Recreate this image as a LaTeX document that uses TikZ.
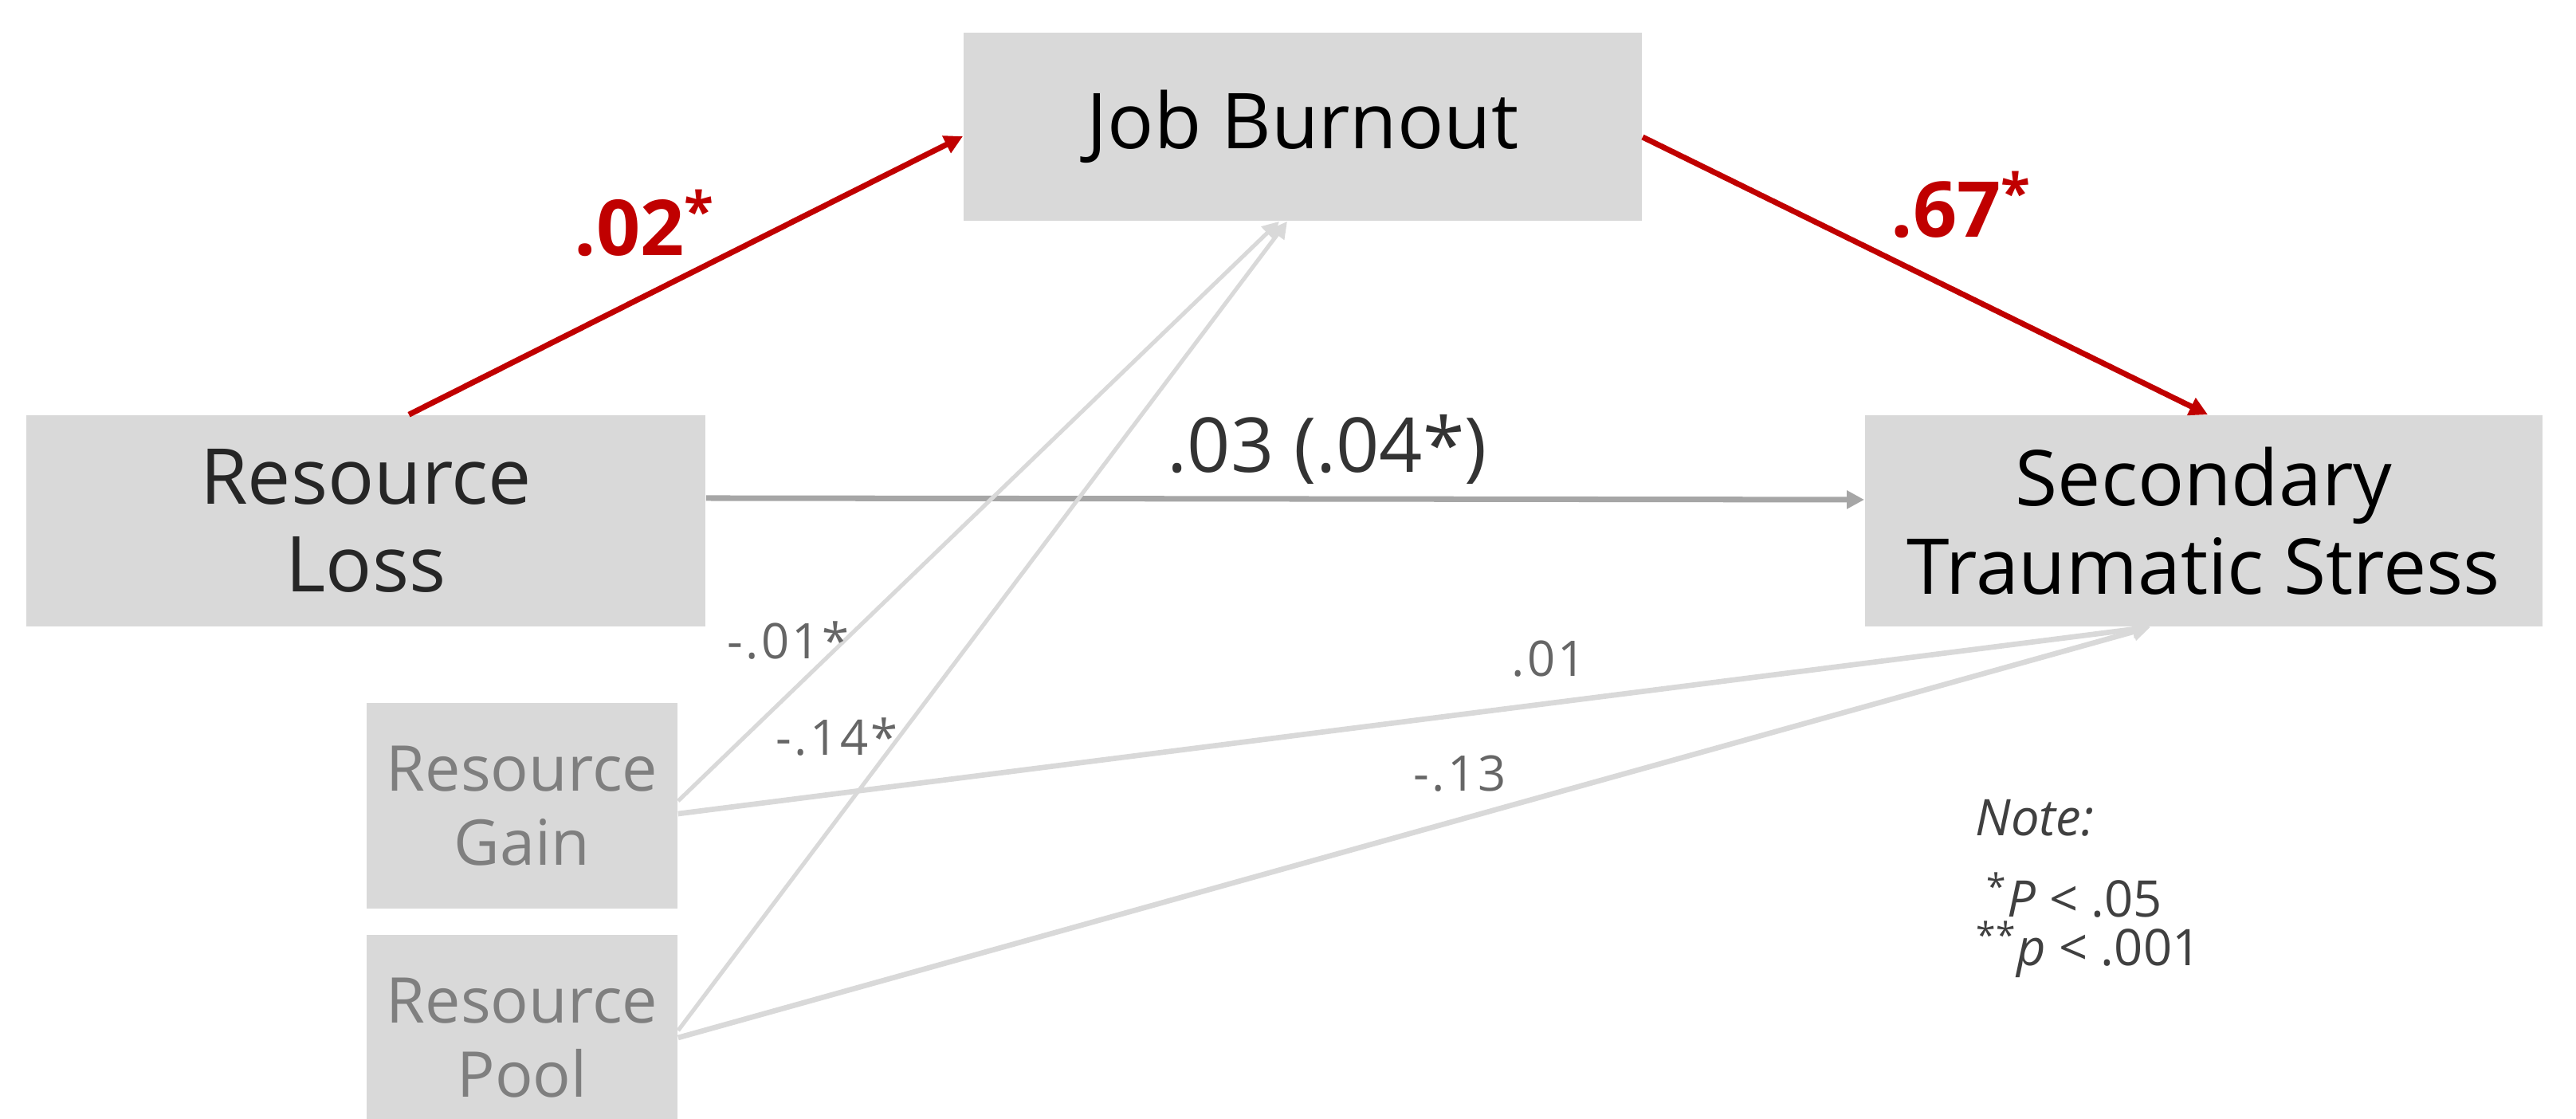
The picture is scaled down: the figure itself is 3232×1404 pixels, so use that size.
\documentclass[tikz,border=0pt]{standalone}
\usepackage{fontspec}
\setmainfont{Open Sans}
\usetikzlibrary{arrows.meta}
\definecolor{boxgray}{HTML}{D9D9D9}
\definecolor{redline}{HTML}{C00000}
\definecolor{midgray}{HTML}{A6A6A6}
\definecolor{txtdark}{HTML}{262626}
\definecolor{txtgain}{HTML}{7F7F7F}
\definecolor{lblgray}{HTML}{666666}
\definecolor{notegray}{HTML}{404040}
\definecolor{lbldark}{HTML}{333333}
\begin{document}
\begin{tikzpicture}[x=0.01cm,y=-0.01cm,
  box/.style={fill=boxgray, inner sep=0pt, align=center},
  mainbox/.style={box, font=\fontsize{27.5}{31.5}\selectfont},
  smallbox/.style={box, text=txtgain, font=\fontsize{22.5}{26.5}\selectfont},
  redarrow/.style={draw=redline, line width=2pt, -{Triangle[length=0.23cm,width=0.23cm]}},
  directarrow/.style={draw=midgray, line width=2pt, -{Triangle[length=0.22cm,width=0.22cm]}},
  thinarrow/.style={draw=boxgray, line width=1.45pt, -{Triangle[length=0.21cm,width=0.21cm]}},
  lightarrow/.style={draw=boxgray, line width=1.9pt, -{Triangle[length=0.22cm,width=0.22cm]}},
  coef/.style={anchor=base west, inner sep=0pt, text=lblgray, font=\fontsize{17.5}{20}\selectfont\addfontfeatures{LetterSpace=5}},
  redlbl/.style={anchor=base west, inner sep=0pt, text=redline, font=\fontsize{27.5}{31.5}\selectfont\bfseries},
  darklbl/.style={anchor=base west, inner sep=0pt, text=lbldark, font=\fontsize{27}{31}\selectfont},
  notelbl/.style={anchor=base west, inner sep=0pt, text=notegray, font=\fontsize{18}{21}\selectfont}
]
\useasboundingbox (0,0) rectangle (3232,1404);
\clip (0,0) rectangle (3232,1404);

% boxes
\node[mainbox, text=black, minimum width=8.51cm, minimum height=2.36cm] (JB) at (1634.5,159) {Job Burnout};
\node[mainbox, text=txtdark, minimum width=8.52cm, minimum height=2.65cm] (RL) at (459,653.5) {Resource\\Loss};
\node[mainbox, text=black, minimum width=8.50cm, minimum height=2.65cm] (STS) at (2765,653.5) {Secondary\\Traumatic Stress};
\node[smallbox, minimum width=3.90cm, minimum height=2.58cm] (RG) at (655,1011) {Resource\\Gain};
\node[smallbox, minimum width=3.90cm, minimum height=2.58cm] (RP) at (655,1302) {Resource\\Pool};

% connectors
\draw[redarrow] ([xshift=0.54cm]RL.north) -- ([yshift=-0.12cm]JB.west);
\draw[redarrow] ([yshift=-0.13cm]JB.east) -- ([xshift=0.05cm]STS.north);
\draw[directarrow] ([yshift=0.285cm]RL.east) -- ([yshift=0.265cm]STS.west);
\draw[thinarrow] ([yshift=0.06cm]RG.east) -- ([xshift=-0.295cm]JB.south);
\draw[thinarrow] ([yshift=0.09cm]RP.east) -- ([xshift=-0.195cm]JB.south);
\draw[lightarrow] ([yshift=-0.10cm]RG.east) -- ([xshift=-0.67cm]STS.south);
\draw[lightarrow] (RP.east) -- ([xshift=-0.67cm]STS.south);

% coefficient labels
\node[redlbl] (l02) at (720,321) {.02\textsuperscript{*}};
\node[redlbl] (l67) at (2372,298) {.67\textsuperscript{*}};
\node[darklbl] (l03) at (1464,593) {.03 (.04*)};
\node[coef] (l01a) at (912,827) {-.01*};
\node[coef] (l14) at (973,948) {-.14*};
\node[coef] (l01b) at (1896,849) {.01};
\node[coef] (l13) at (1773,993) {-.13};

% note
\node[notelbl] (note) at (2478,1049) {\itshape Note:};
\node[notelbl] (p05) at (2492,1151) {\textsuperscript{*}\textit{P} < .05};
\node[notelbl] (p001) at (2479,1212) {\textsuperscript{**}\textit{p} < .001};
\end{tikzpicture}
\end{document}
